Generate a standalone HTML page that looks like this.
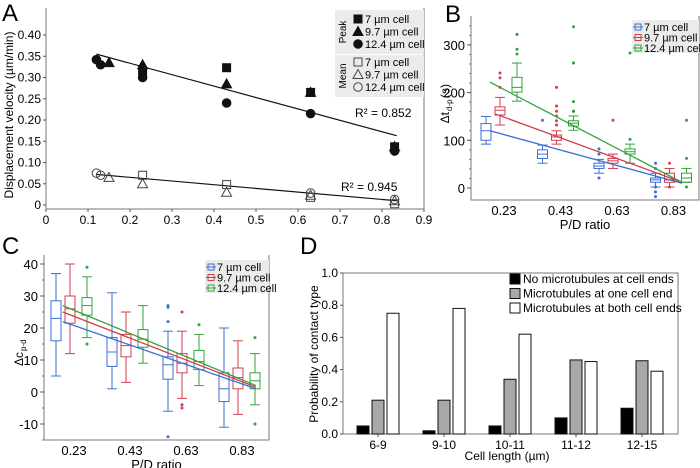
<!DOCTYPE html>
<html><head><meta charset="utf-8"><style>
body{margin:0;background:#fff}
svg{display:block;font-family:"Liberation Sans",Arial,sans-serif}
</style></head><body>
<svg id="fig" width="700" height="468" viewBox="0 0 700 468" xmlns="http://www.w3.org/2000/svg"></svg>
<script>
// ---------- Panel A data ----------
const aXTicks=[0,0.1,0.2,0.3,0.4,0.5,0.6,0.7,0.8,0.9];
const aYTicks=[0,0.05,0.10,0.15,0.20,0.25,0.30,0.35,0.40];
const aPeak7X=[0.23,0.43,0.63,0.83];
const aPeak7Y=[0.315,0.323,0.265,0.137];
const aPeak97X=[0.15,0.23,0.43,0.63,0.83];
const aPeak97Y=[0.335,0.33,0.285,0.265,0.137];
const aPeak124X=[0.12,0.13,0.23,0.43,0.63,0.83];
const aPeak124Y=[0.342,0.33,0.30,0.24,0.215,0.127];
const aMean7X=[0.23,0.43,0.63,0.83];
const aMean7Y=[0.07,0.048,0.018,0.003];
const aMean97X=[0.15,0.23,0.43,0.63,0.83];
const aMean97Y=[0.065,0.05,0.03,0.023,0.01];
const aMean124X=[0.12,0.13,0.63,0.83];
const aMean124Y=[0.075,0.07,0.028,0.013];
const aPeakFit=[[0.12,0.355],[0.835,0.163]];
const aMeanFit=[[0.12,0.072],[0.835,0.01]];
// ---------- Panel B data ----------
const bCats=["0.23","0.43","0.63","0.83"];
const bYTicks=[0,100,200,300];
const bBlue=[[92,100,120,135,150],[52,62,71,80,90],[31,41,46,52,60],[2,12,17,21,31]];
const bRed=[[132,153,163,170,190],[92,100,107,111,120],[41,52,57,62,71],[2,12,17,31,41]];
const bGreen=[[182,201,211,232,262],[121,130,136,141,151],[52,71,76,82,92],[12,12,21,31,41]];
const bBlueOut=[[],[142],[82,71,21],[52,41,2,-8,-18]];
const bRedOut=[[241,231,211],[211,172,161,151,141,132],[142],[52,2]];
const bGreenOut=[[322,322,291,281],[338,262,262,181,161,161,161],[283,102],[142,62,2]];
const bFitBlue=[[0.18,120],[0.86,10]];
const bFitRed=[[0.2,155],[0.86,12]];
const bFitGreen=[[0.18,222],[0.86,12]];
// ---------- Panel C data ----------
const cCats=["0.23","0.43","0.63","0.83"];
const cYTicks=[-10,0,10,20,30,40];
const cBlue=[[5,16,23,28.5,37],[1,8,12.5,17,31],[-6,4,8.5,11,19],[-11,-3,1,6,20]];
const cRed=[[12,21.5,26,30,40],[3,11,14.5,18,25],[-2,6,9,12,19],[-7,1,4.5,7.5,16]];
const cGreen=[[17,24,27,29.5,36],[9,14,16.5,19.5,27],[2,7,9.5,13,18],[-4,1,3.5,6,12]];
const cBlueOut=[[],[],[27,26.5,22,-14],[]];
const cRedOut=[[],[],[25,-4,-5],[]];
const cGreenOut=[[39,15],[],[21],[17,-10]];
const cFitBlue=[[0.19,22],[0.88,1]];
const cFitRed=[[0.19,25],[0.88,1.5]];
const cFitGreen=[[0.19,27],[0.88,2]];
// ---------- Panel D data ----------
const dCats=["6-9","9-10","10-11","11-12","12-15"];
const dYTicks=[0,0.2,0.4,0.6,0.8,1.0];
const dNone=[0.05,0.02,0.05,0.10,0.16];
const dOne=[0.21,0.21,0.34,0.46,0.455];
const dBoth=[0.75,0.78,0.62,0.45,0.39];

const NS="http://www.w3.org/2000/svg";
const svg=document.getElementById('fig');
function mk(tag,attrs,parent){const e=document.createElementNS(NS,tag);for(const k in attrs)e.setAttribute(k,attrs[k]);(parent||svg).appendChild(e);return e;}
function txt(s,attrs,parent){const e=mk('text',attrs,parent);e.textContent=s;return e;}
const BLUE="#3b6fd6",RED="#d23e4c",GREEN="#35a03c";

[["A",2,21],["B",445,22],["C",2,254],["D",300,254]].forEach(p=>{
 const t=txt(p[0],{x:p[1],y:p[2],'font-size':24});
 
 
});

// ================= Panel A =================
(function(){
 const g=mk('g',{});
 
 
 const L=46,R=424,T=8,B=209;
 const x=v=>L+v/0.9*(R-L);
 const y=v=>205-v/0.40*170;
 const ax=mk('path',{d:`M${L},${T}V${B}H${R}V${T}`,fill:'none',stroke:'#777','stroke-width':1},g);
 
 
 aXTicks.forEach(v=>{mk('line',{x1:x(v),x2:x(v),y1:B,y2:B+3,stroke:'#555'},g);
  const t=txt(String(v),{x:x(v),y:224,'font-size':12,'text-anchor':'middle'},g);
  
  });
 aYTicks.forEach(v=>{mk('line',{x1:L-3,x2:L,y1:y(v),y2:y(v),stroke:'#555'},g);
  const t=txt(v===0?'0':v.toFixed(2),{x:L-5,y:y(v)+4,'font-size':12,'text-anchor':'end'},g);
  
  });
 const yt=txt('Displacement velocity (µm/min)',{x:0,y:0,'font-size':12,'text-anchor':'middle',transform:'translate(13,115) rotate(-90)'},g);
 
 
 [[aPeakFit,'a-peak-fit-line'],[aMeanFit,'a-mean-fit-line']].forEach(f=>{
  const l=mk('line',{x1:x(f[0][0][0]),y1:y(f[0][0][1]),x2:x(f[0][1][0]),y2:y(f[0][1][1]),stroke:'#111','stroke-width':1.2},g);
  
  });
 function marker(shape,cx,cy,filled){
  const st=filled?{fill:'#111',stroke:'#111'}:{fill:'none',stroke:'#444','stroke-width':1};
  let e;
  if(shape==='sq')e=mk('rect',Object.assign({x:cx-4,y:cy-4,width:8,height:8},st),g);
  else if(shape==='tri')e=mk('polygon',Object.assign({points:`${cx},${cy-5} ${cx-5},${cy+4} ${cx+5},${cy+4}`},st),g);
  else e=mk('circle',Object.assign({cx:cx,cy:cy,r:4.3},st),g);
  return e;}
 const sets=[[aPeak7X,aPeak7Y,'sq',true,'a-peak-7um-point'],[aPeak97X,aPeak97Y,'tri',true,'a-peak-9-7um-point'],[aPeak124X,aPeak124Y,'ci',true,'a-peak-12-4um-point'],
  [aMean7X,aMean7Y,'sq',false,'a-mean-7um-point'],[aMean97X,aMean97Y,'tri',false,'a-mean-9-7um-point'],[aMean124X,aMean124Y,'ci',false,'a-mean-12-4um-point']];
 sets.forEach(s=>s[0].forEach((xv,i)=>{const e=marker(s[2],x(xv),y(s[1][i]),s[3]);
  
  }));
 const r1=txt('R² = 0.852',{x:355,y:117,'font-size':12},g);
 
 
 const r2=txt('R² = 0.945',{x:341,y:191,'font-size':12},g);
 
 
 const lg=mk('g',{},g);
 
 
 mk('rect',{x:335,y:10,width:89,height:44,fill:'#ebebeb'},lg);
 mk('rect',{x:335,y:55,width:89,height:42,fill:'#ebebeb'},lg);
 txt('Peak',{x:0,y:0,'font-size':10,'text-anchor':'middle',transform:'translate(346,32) rotate(-90)'},lg);
 txt('Mean',{x:0,y:0,'font-size':10,'text-anchor':'middle',transform:'translate(346,76) rotate(-90)'},lg);
 const names=['7 µm cell','9.7 µm cell','12.4 µm cell'];
 const shapes=['sq','tri','ci'];
 [[19,true],[62,false]].forEach(sec=>names.forEach((n,i)=>{
  const cy=sec[0]+i*12.5;
  const m=marker(shapes[i],358,cy,sec[1]);
  
  
  const t=txt(n,{x:365,y:cy+4,'font-size':11},lg);
  
  
 }));
})();

// ================= box panels (B, C) =================
function boxPanel(cfg){
 const g=mk('g',{});
 
 
 const {L,R,T,B}=cfg;
 const y=cfg.y;
 const pdx=v=>cfg.c0+(v-0.23)/0.2*cfg.step;
 const ax=mk('path',{d:`M${L},${T}V${B}H${R}V${T}`,fill:'none',stroke:'#777','stroke-width':1},g);
 
 
 for(let v=cfg.minorLo;v<=cfg.minorHi;v+=cfg.minor)mk('line',{x1:L-2,x2:L,y1:y(v),y2:y(v),stroke:'#777'},g);
 cfg.yTicks.forEach(v=>{mk('line',{x1:L-4,x2:L,y1:y(v),y2:y(v),stroke:'#555'},g);
  const t=txt(String(v),{x:L-6,y:y(v)+5,'font-size':13,'text-anchor':'end'},g);
  
  });
 cfg.cats.forEach((c,i)=>{const t=txt(c,{x:cfg.c0+i*cfg.step,y:B+15,'font-size':13,'text-anchor':'middle'},g);
  
  });
 const xt=txt('P/D ratio',{x:(L+R)/2,y:B+29,'font-size':13,'text-anchor':'middle'},g);
 
 
 const yg=mk('g',{transform:`translate(${cfg.ytx},${cfg.yty}) rotate(-90)`},g);
 
 
 txt(cfg.ytMain,{x:0,y:0,'font-size':12,'text-anchor':'end'},yg);
 txt(cfg.ytSub,{x:1,y:3,'font-size':8,'text-anchor':'start'},yg);
 if(cfg.ytTail)txt(cfg.ytTail,{x:14,y:0,'font-size':12,'text-anchor':'start'},yg);
 const series=[[cfg.blue,cfg.blueOut,BLUE,-18,'blue'],[cfg.red,cfg.redOut,RED,-4,'red'],[cfg.green,cfg.greenOut,GREEN,13,'green']];
 series.forEach(s=>s[0].forEach((q,i)=>{
  const cx=cfg.c0+i*cfg.step+s[3];const w=5;const col=s[2];
  const bg=mk('g',{fill:'none',stroke:col,'stroke-width':1},g);
  
  
  mk('line',{x1:cx,x2:cx,y1:y(q[0]),y2:y(q[1])},bg);
  mk('line',{x1:cx,x2:cx,y1:y(q[3]),y2:y(q[4])},bg);
  mk('line',{x1:cx-w,x2:cx+w,y1:y(q[0]),y2:y(q[0])},bg);
  mk('line',{x1:cx-w,x2:cx+w,y1:y(q[4]),y2:y(q[4])},bg);
  mk('rect',{x:cx-w,y:y(q[3]),width:2*w,height:Math.max(1,y(q[1])-y(q[3]))},bg);
  mk('line',{x1:cx-w,x2:cx+w,y1:y(q[2]),y2:y(q[2])},bg);
  s[1][i].forEach(o=>{const d=mk('circle',{cx:cx,cy:y(o),r:1.5,fill:col},g);
   
   });
 }));
 [[cfg.fitBlue,BLUE,'blue'],[cfg.fitRed,RED,'red'],[cfg.fitGreen,GREEN,'green']].forEach(f=>{
  const l=mk('line',{x1:pdx(f[0][0][0]),y1:y(f[0][0][1]),x2:pdx(f[0][1][0]),y2:y(f[0][1][1]),stroke:f[1],'stroke-width':1.3},g);
  
  });
 const lg=mk('g',{},g);
 
 
 mk('rect',{x:cfg.lx,y:cfg.ly,width:R-cfg.lx,height:33,fill:'#ebebeb'},lg);
 [['7 µm cell',BLUE],['9.7 µm cell',RED],['12.4 µm cell',GREEN]].forEach((e,i)=>{
  const cy=cfg.ly+7+i*10.5;
  mk('rect',{x:cfg.lx+3,y:cy-3,width:6,height:6,fill:'none',stroke:e[1]},lg);
  mk('line',{x1:cfg.lx+1,x2:cfg.lx+11,y1:cy,y2:cy,stroke:e[1]},lg);
  const t=txt(e[0],{x:cfg.lx+12,y:cy+4,'font-size':11},lg);
  
  });
}
boxPanel({name:'panel-b-chart',pre:'b',L:471,R:699,T:16,B:200,y:v=>188-v*0.477,c0:504,step:56.5,
 minor:20,minorLo:0,minorHi:340,yTicks:bYTicks,cats:bCats,ytx:449,yty:112,
 ytMain:'Δt',ytSub:'d-p',ytTail:'(s)',
 blue:bBlue,red:bRed,green:bGreen,blueOut:bBlueOut,redOut:bRedOut,greenOut:bGreenOut,
 fitBlue:bFitBlue,fitRed:bFitRed,fitGreen:bFitGreen,lx:632,ly:20});
boxPanel({name:'panel-c-chart',pre:'c',L:44,R:269,T:255,B:440,y:v=>392-v*3.2,c0:74,step:56,
 minor:5,minorLo:-15,minorHi:40,yTicks:cYTicks,cats:cCats,ytx:23,yty:352,
 ytMain:'Δc',ytSub:'p-d',ytTail:'',
 blue:cBlue,red:cRed,green:cGreen,blueOut:cBlueOut,redOut:cRedOut,greenOut:cGreenOut,
 fitBlue:cFitBlue,fitRed:cFitRed,fitGreen:cFitGreen,lx:205,ly:260});

// ================= Panel D =================
(function(){
 const g=mk('g',{});
 
 
 const L=343,R=678,T=273,B=434;
 const y=v=>B-v*161;
 const ax=mk('rect',{x:L,y:T,width:R-L,height:B-T,fill:'none',stroke:'#777'},g);
 
 
 dYTicks.forEach(v=>{mk('line',{x1:L-3,x2:L,y1:y(v),y2:y(v),stroke:'#555'},g);
  const t=txt(v.toFixed(1),{x:L-5,y:y(v)+4,'font-size':12,'text-anchor':'end'},g);
  
  });
 const bw=12,gap=3,c0=378,step=66;
 dCats.forEach((c,i)=>{const cx=c0+i*step;
  mk('line',{x1:cx,x2:cx,y1:B,y2:B+3,stroke:'#555'},g);
  const t=txt(c,{x:cx,y:B+15,'font-size':12,'text-anchor':'middle'},g);
  
  
  [[dNone,'#000','none'],[dOne,'#a8a8a8','one'],[dBoth,'#fff','both']].forEach((s,j)=>{
   const bx=cx-bw/2+(j-1)*(bw+gap);
   const r=mk('rect',{x:bx,y:y(s[0][i]),width:bw,height:y(0)-y(s[0][i]),fill:s[1],stroke:'#111','stroke-width':1},g);
   
   });
 });
 const xt=txt('Cell length (µm)',{x:507,y:460,'font-size':12,'text-anchor':'middle'},g);
 
 
 const yt=txt('Probability of contact type',{x:0,y:0,'font-size':12,'text-anchor':'middle',transform:'translate(318,354) rotate(-90)'},g);
 
 
 [['No microtubules at cell ends','#000'],['Microtubules at one cell end','#a8a8a8'],['Microtubules at both cell ends','#fff']].forEach((e,i)=>{
  const cy=279+i*14.5;
  mk('rect',{x:510,y:cy-5,width:10,height:10,fill:e[1],stroke:'#111'},g);
  const t=txt(e[0],{x:523,y:cy+4,'font-size':12},g);
  
  });
})();
</script>
</body></html>
